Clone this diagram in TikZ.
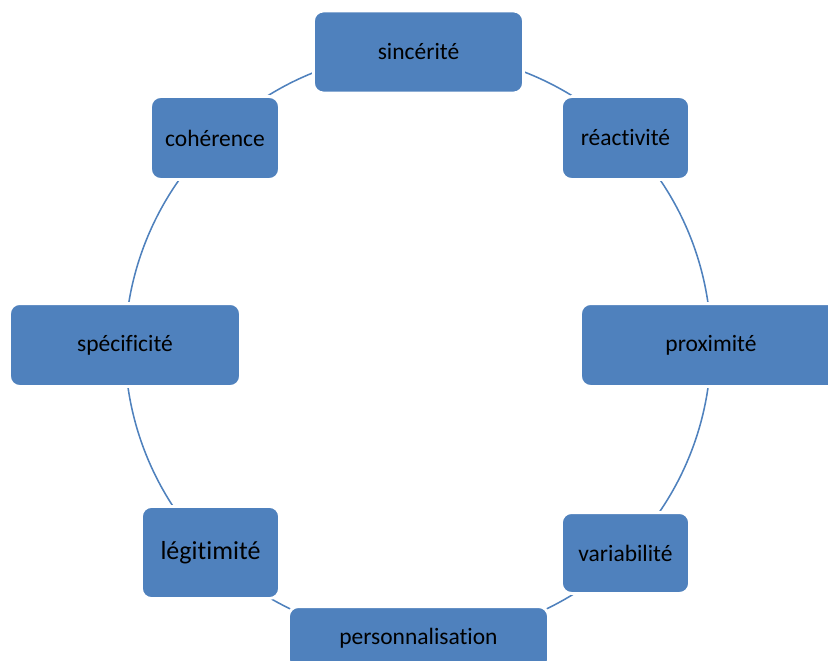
\documentclass[tikz,border=0pt]{standalone}
\usepackage{fontspec}
\setmainfont{Carlito}[Ligatures=NoCommon]
\usepackage{tikz}
\usetikzlibrary{backgrounds}
\definecolor{boxblue}{RGB}{79,129,189}
\tikzset{
  item/.style={shape=rectangle, rounded corners=0.25cm, fill=boxblue, draw=white, line width=2pt, inner sep=0pt, font=\fontsize{16.7}{20}\selectfont},
  ring/.style={draw=boxblue, line width=1.1pt, bend left=22.5, looseness=0.885}
}

\begin{document}
\begin{tikzpicture}[x=0.025cm, y=0.025cm]
      \useasboundingbox (-418.5,-315) rectangle (409.5,345);
      \node[item, minimum width=5.25cm, minimum height=2.05cm] (sinc) at (0,293) {sincérité};
      \node[item, minimum width=3.2cm, minimum height=2.07cm] (reac) at (207,207) {réactivité};
      \node[item, minimum width=6.52cm, minimum height=2.07cm] (prox) at (292.5,0) {proximité};
      \node[item, minimum width=3.2cm, minimum height=2.02cm] (vari) at (207,-208) {variabilité};
      \node[item, minimum width=6.5cm, minimum height=1.57cm] (pers) at (0,-293) {personnalisation};
      \node[item, minimum width=3.45cm, minimum height=2.3cm, font=\fontsize{18.5}{22}\selectfont] (legi) at (-208,-207.5) {légitimité};
      \node[item, minimum width=5.77cm, minimum height=2.07cm] (spec) at (-293.5,0) {spécificité};
      \node[item, minimum width=3.22cm, minimum height=2.07cm] (cohe) at (-203.5,207) {cohérence};

      \begin{scope}[on background layer]
        \draw[ring] (sinc.center) to (reac.center);
        \draw[ring] (reac.center) to (prox.center);
        \draw[ring] (prox.center) to (vari.center);
        \draw[ring] (vari.center) to (pers.center);
        \draw[ring] (pers.center) to (legi.center);
        \draw[ring] (legi.center) to (spec.center);
        \draw[ring] (spec.center) to (cohe.center);
        \draw[ring] (cohe.center) to (sinc.center);
      \end{scope}
    \end{tikzpicture}
\end{document}
